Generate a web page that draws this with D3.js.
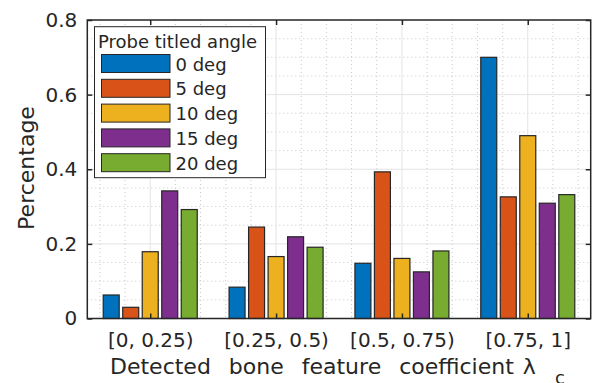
<!DOCTYPE html>
<html>
<head>
<meta charset="utf-8">
<script src="https://cdn.jsdelivr.net/npm/d3@7"></script>
<style>
  body { margin: 0; background: #fff; }
  svg { display: block; font-family: "DejaVu Sans", sans-serif; }
</style>
</head>
<body>
<svg id="chart" width="592" height="383"></svg>
<script>
const categories = ["[0, 0.25)", "[0.25, 0.5)", "[0.5, 0.75)", "[0.75, 1]"];
const seriesNames = ["0 deg", "5 deg", "10 deg", "15 deg", "20 deg"];
const colors = ["#0072BD", "#D95319", "#EDB120", "#7E2F8E", "#77AC30"];
const deg0 = [0.063, 0.084, 0.148, 0.700];
const deg5 = [0.030, 0.245, 0.393, 0.326];
const deg10 = [0.179, 0.166, 0.161, 0.490];
const deg15 = [0.342, 0.219, 0.125, 0.309];
const deg20 = [0.292, 0.191, 0.181, 0.332];
const yTicks = [0, 0.2, 0.4, 0.6, 0.8];
const series = [deg0, deg5, deg10, deg15, deg20];

const ink = "#262626";
const font = "DejaVu Sans, sans-serif";
const svg = d3.select("#chart");
const pL = 87.3, pR = 590.7, pT = 20, pB = 318.5;

const x = d3.scaleLinear().domain([0.5, 4.5]).range([pL, pR]);
const y = d3.scaleLinear().domain([0, 0.8]).range([pB, pT]);

// grid
const grid = svg.append("g");
const minorX = d3.range(0.6, 4.45, 0.2).filter(v => Math.abs(v - Math.round(v)) > 0.01);
const minorY = d3.range(0.05, 0.8, 0.05).filter(v => Math.abs(v * 5 - Math.round(v * 5)) > 0.01);
grid.selectAll(".mx").data(minorX).join("line")
  .attr("x1", d => x(d)).attr("x2", d => x(d)).attr("y1", pT).attr("y2", pB)
  .attr("stroke", "#c8c8c8").attr("stroke-width", 1).attr("stroke-dasharray", "1,3");
grid.selectAll(".my").data(minorY).join("line")
  .attr("x1", pL).attr("x2", pR).attr("y1", d => y(d)).attr("y2", d => y(d))
  .attr("stroke", "#c8c8c8").attr("stroke-width", 1).attr("stroke-dasharray", "1,3");
grid.selectAll(".gx").data([1, 2, 3, 4]).join("line")
  .attr("x1", d => x(d)).attr("x2", d => x(d)).attr("y1", pT).attr("y2", pB)
  .attr("stroke", "#e3e3e3").attr("stroke-width", 1);
grid.selectAll(".gy").data(yTicks.slice(1, -1)).join("line")
  .attr("x1", pL).attr("x2", pR).attr("y1", d => y(d)).attr("y2", d => y(d))
  .attr("stroke", "#e3e3e3").attr("stroke-width", 1);

// bars
const pitch = 0.155, barW = 0.127;
series.forEach((vals, s) => {
  svg.append("g").selectAll("rect").data(vals).join("rect")
    .attr("x", (d, i) => x(i + 1 + (s - 2) * pitch - barW / 2))
    .attr("width", x(barW) - x(0))
    .attr("y", d => y(d))
    .attr("height", d => y(0) - y(d))
    .attr("fill", colors[s])
    .attr("stroke", ink).attr("stroke-width", 1.2);
});

// axes (box with inward ticks)
const tickLen = 5;
const yAxisL = d3.axisLeft(y).tickValues(yTicks).tickSize(-tickLen).tickPadding(10)
  .tickFormat(d => d === 0 ? "0" : d3.format(".1f")(d));
const yAxisR = d3.axisRight(y).tickValues(yTicks).tickSize(-tickLen).tickFormat("");
const xAxisB = d3.axisBottom(x).tickValues([1, 2, 3, 4]).tickSize(-tickLen).tickPadding(14)
  .tickFormat(d => categories[d - 1]);
const xAxisT = d3.axisTop(x).tickValues([1, 2, 3, 4]).tickSize(-tickLen).tickFormat("");

function style(g) {
  g.attr("font-family", font).attr("font-size", 20);
  g.select(".domain").remove();
  g.selectAll(".tick line").attr("stroke", ink).attr("stroke-width", 1.5);
  g.selectAll("text").attr("fill", ink);
}
svg.append("g").attr("transform", `translate(${pL},0)`).call(yAxisL).call(style);
svg.append("g").attr("transform", `translate(${pR},0)`).call(yAxisR).call(style);
svg.append("g").attr("transform", `translate(0,${pB})`).call(xAxisB).call(style);
svg.append("g").attr("transform", `translate(0,${pT})`).call(xAxisT).call(style);

svg.append("rect").attr("x", pL).attr("y", pT)
  .attr("width", pR - pL).attr("height", pB - pT)
  .attr("fill", "none").attr("stroke", ink).attr("stroke-width", 1.5);

// labels
svg.append("text").attr("transform", `translate(33.5,168) rotate(-90)`)
  .attr("text-anchor", "middle").attr("font-size", 22).attr("fill", ink)
  .text("Percentage");
const xl = svg.append("text").attr("x", 110).attr("y", 373.5)
  .attr("font-size", 22).attr("fill", ink).attr("word-spacing", 2)
  .style("white-space", "pre");
xl.append("tspan").text("Detected  bone  feature  coefficient λ");
xl.append("tspan").attr("x", 555).attr("dy", 10).attr("font-size", 18).text("c");

// legend
const lg = svg.append("g");
lg.append("rect").attr("x", 94.5).attr("y", 26.7).attr("width", 171).attr("height", 151)
  .attr("fill", "#fff").attr("stroke", ink).attr("stroke-width", 1);
lg.append("text").attr("x", 98).attr("y", 48).attr("font-size", 18).attr("fill", ink)
  .text("Probe titled angle");
const items = lg.selectAll(".item").data(seriesNames).join("g")
  .attr("transform", (d, i) => `translate(0,${54.5 + i * 24.8})`);
items.append("rect").attr("x", 101.5).attr("y", 0).attr("width", 68.5).attr("height", 18)
  .attr("fill", (d, i) => colors[i]).attr("stroke", ink).attr("stroke-width", 1);
items.append("text").attr("x", 175.5).attr("y", 16).attr("font-size", 18).attr("fill", ink)
  .text(d => d);
</script>
</body>
</html>
